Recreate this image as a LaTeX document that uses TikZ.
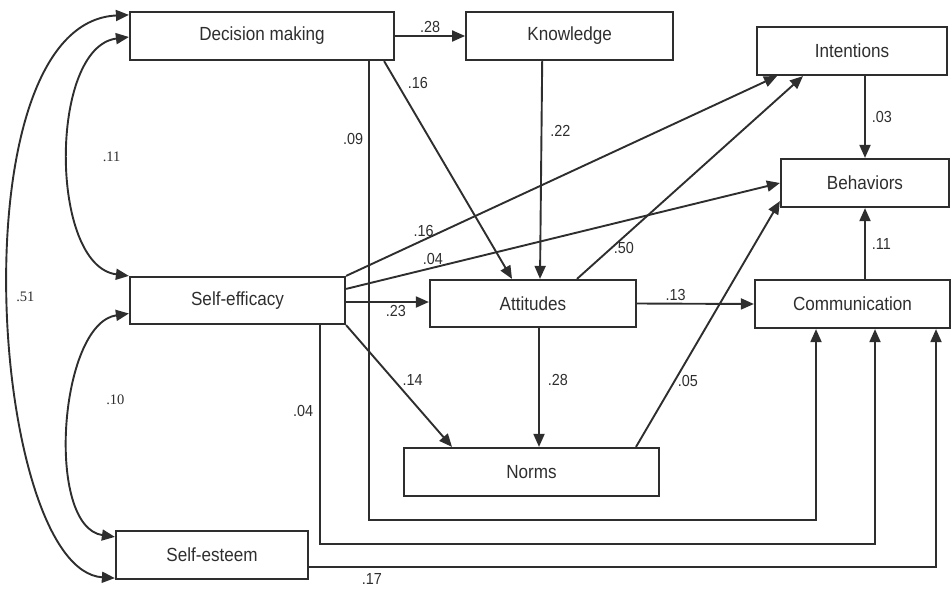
\documentclass[tikz,border=0pt]{standalone}
\usepackage{fontspec}
\setmainfont{Liberation Sans}
\newfontfamily\labfont[FakeStretch=0.9]{Liberation Sans}
\newfontfamily\corfont{Liberation Serif}
\usetikzlibrary{positioning}
\usetikzlibrary{calc}
\usetikzlibrary{arrows.meta}

\colorlet{ink}{black!82}

\tikzset{
  var/.style={draw=ink, line width=2.2pt, minimum height=48pt, inner sep=0pt,
    text=ink, font=\labfont\fontsize{19}{22}\selectfont},
  eff/.style={draw=ink, line width=1.9pt, -{Triangle[length=13pt,width=11pt]}},
  cov/.style={draw=ink, line width=1.9pt,
    {Triangle[length=13pt,width=11pt]}-{Triangle[length=13pt,width=11pt]}},
  coef/.style={text=ink, inner sep=2pt, font=\labfont\fontsize{16}{18}\selectfont},
  rcoef/.style={text=ink, inner sep=2pt, font=\corfont\fontsize{14.5}{16}\selectfont},
}

\begin{document}
\begin{tikzpicture}[x=1pt, y=-1pt]
\useasboundingbox (0,0) rectangle (952,592);

\node[var, minimum width=264pt] (dm) at (262,36) {Decision making};
\node[var, minimum width=207pt] (know) [right=70pt of dm] {Knowledge};
\node[var, minimum width=190pt] (intent) at (852,51) {Intentions};
\node[var, minimum width=168pt] (behav) at (865,183) {Behaviors};
\node[var, minimum width=215pt, minimum height=47pt] (selfeff) at (237.5,300.5) {Self-efficacy};
\node[var, minimum width=206pt, minimum height=47pt] (att) at (533,303.5) {Attitudes};
\node[var, minimum width=195pt] (comm) at (852.5,304) {Communication};
\node[var, minimum width=255pt] (norms) at (531.5,472) {Norms};
\node[var, minimum width=192pt] (esteem) at (212,555) {Self-esteem};

\draw[eff] (dm) -- node[coef, above] {.28} (know);
\draw[eff] ($(dm.south east)+(-11,0)$) -- node[coef, pos=.1, right=8pt] {.16} ($(att.north)+(-21,0)$);
\draw[eff] ($(dm.south)+(107,0)$) -- node[coef, pos=.17, left=3pt] {.09} ++(0,459) -| ($(comm.south)+(-36.5,0)$);
\draw[eff] ($(know.south)+(-27.5,0)$) -- node[coef, pos=.32, right=6pt] {.22} ($(att.north)+(7,0)$);
\draw[eff] (selfeff.north east) -- node[coef, pos=.18, above] {.16} ($(intent.south)+(-75,0)$);
\draw[eff] ($(selfeff.north east)+(0,13)$) -- node[coef, pos=.2, above] {.04} (behav.west);
\draw[eff] ($(selfeff.east |- att.west)+(0,-1.5)$) -- node[coef, pos=.6, below] {.23} ($(att.west)+(0,-1.5)$);
\draw[eff] (selfeff.south east) -- node[coef, pos=.45, right=6pt] {.14} ($(norms.north)+(-79.5,0)$);
\draw[eff] ($(selfeff.south)+(82.5,0)$) -- node[coef, pos=.39, left=4pt] {.04} ++(0,219) -| ($(comm.south)+(22.5,0)$);
\draw[eff] ($(att.north)+(44,0)$) -- node[coef, pos=.15, right] {.50} ($(intent.south)+(-49,0)$);
\draw[eff] (att.east) -- node[coef, pos=.33, above] {.13} (comm.west);
\draw[eff] ($(att.south)+(6,0)$) -- node[coef, pos=.44, right=6pt] {.28} ($(norms.north)+(7.5,0)$);
\draw[eff] ($(norms.north)+(104.5,0)$) -- node[coef, pos=.27, right] {.05} ($(behav.south west)+(0,-7)$);
\draw[eff] (behav.north |- intent.south) -- node[coef, right=4pt] {.03} (behav.north);
\draw[eff] (behav.south |- comm.north) -- node[coef, right=4pt] {.11} (behav.south);
\draw[eff] ($(esteem.east)+(0,12)$) -| node[coef, pos=.05, below=4pt] {.17} ($(comm.south)+(83.5,0)$);

\draw[cov] ($(dm.north west)+(0,4)$) .. controls +(-175,8) and +(-125,-8) .. ($(esteem.south west)+(0,-2)$) node[rcoef, pos=.5, right=4pt] {.51};
\draw[cov] ($(dm.west)+(0,1)$) .. controls +(-80,10) and +(-80,-10) .. (selfeff.north west) node[rcoef, pos=.5, right=31pt] {.11};
\draw[cov] ($(selfeff.west)+(0,13)$) .. controls +(-70,10) and +(-70,-10) .. ($(esteem.north west)+(0,7)$) node[rcoef, pos=.42, right=31pt] {.10};
\end{tikzpicture}
\end{document}
